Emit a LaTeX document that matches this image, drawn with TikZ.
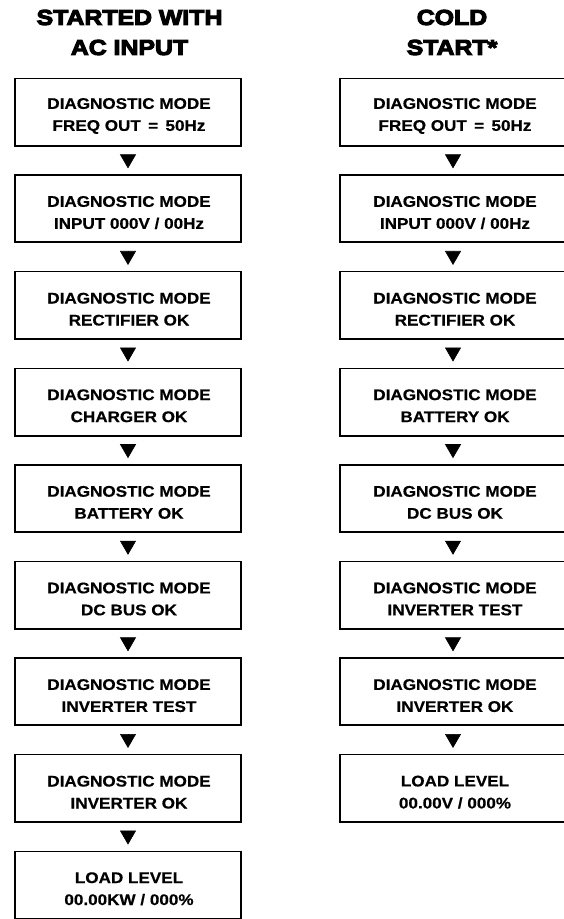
\documentclass[tikz,border=0pt]{standalone}
\usepackage{fontspec}
\newfontfamily\headfont[FakeStretch=1.15,BoldFeatures={FakeBold=5}]{Liberation Sans}
\newfontfamily\panelfont[FakeStretch=1.11,BoldFeatures={FakeBold=0.5}]{Liberation Sans}
\usetikzlibrary{arrows.meta}

\begin{document}
\begin{tikzpicture}[x=0.5pt,y=-0.5pt,line join=miter,
  head/.style={align=center,inner sep=0pt,font=\headfont\bfseries\fontsize{10.8}{15}\selectfont},
  panel/.style={draw,line width=0.7pt,minimum width=113pt,minimum height=33.5pt,inner sep=0pt},
  msg/.style={align=center,inner sep=0pt,font=\panelfont\bfseries\fontsize{7.7}{11}\selectfont},
  flowtip/.style={line width=0.3pt,-{Triangle[width=8pt,length=7pt]},shorten <=4.5pt,shorten >=3pt}]
  \useasboundingbox (0,0) rectangle (563,919);
  % column titles
  \node[head] (hacin) at (129.5,32.5) {STARTED WITH\\AC INPUT};
  \node[head] (hcold) at (452,32.5) {COLD\\START*};
  % started with ac input
  \node[panel] (a1) at (128,112.0) {};
  \node[panel] (a2) at (128,208.6) {};
  \node[panel] (a3) at (128,305.2) {};
  \node[panel] (a4) at (128,401.8) {};
  \node[panel] (a5) at (128,498.4) {};
  \node[panel] (a6) at (128,595.0) {};
  \node[panel] (a7) at (128,691.6) {};
  \node[panel] (a8) at (128,788.2) {};
  \node[panel] (a9) at (128,884.8) {};
  \node[msg] (a1t) at (129,116.0) {DIAGNOSTIC MODE\\FREQ OUT \,=\, 50Hz};
  \node[msg] (a2t) at (129,212.6) {DIAGNOSTIC MODE\\INPUT 000V / 00Hz};
  \node[msg] (a3t) at (129,309.2) {DIAGNOSTIC MODE\\RECTIFIER OK};
  \node[msg] (a4t) at (129,405.8) {DIAGNOSTIC MODE\\CHARGER OK};
  \node[msg] (a5t) at (129,502.4) {DIAGNOSTIC MODE\\BATTERY OK};
  \node[msg] (a6t) at (129,599.0) {DIAGNOSTIC MODE\\DC BUS OK};
  \node[msg] (a7t) at (129,695.6) {DIAGNOSTIC MODE\\INVERTER TEST};
  \node[msg] (a8t) at (129,792.2) {DIAGNOSTIC MODE\\INVERTER OK};
  \node[msg] (a9t) at (129,888.8) {LOAD LEVEL\\00.00KW / 000\%};
  % cold start
  \node[panel] (c1) at (453,112.0) {};
  \node[panel] (c2) at (453,208.6) {};
  \node[panel] (c3) at (453,305.2) {};
  \node[panel] (c4) at (453,401.8) {};
  \node[panel] (c5) at (453,498.4) {};
  \node[panel] (c6) at (453,595.0) {};
  \node[panel] (c7) at (453,691.6) {};
  \node[panel] (c8) at (453,788.2) {};
  \node[msg] (c1t) at (455,116.0) {DIAGNOSTIC MODE\\FREQ OUT \,=\, 50Hz};
  \node[msg] (c2t) at (455,212.6) {DIAGNOSTIC MODE\\INPUT 000V / 00Hz};
  \node[msg] (c3t) at (455,309.2) {DIAGNOSTIC MODE\\RECTIFIER OK};
  \node[msg] (c4t) at (455,405.8) {DIAGNOSTIC MODE\\BATTERY OK};
  \node[msg] (c5t) at (455,502.4) {DIAGNOSTIC MODE\\DC BUS OK};
  \node[msg] (c6t) at (455,599.0) {DIAGNOSTIC MODE\\INVERTER TEST};
  \node[msg] (c7t) at (455,695.6) {DIAGNOSTIC MODE\\INVERTER OK};
  \node[msg] (c8t) at (455,792.2) {LOAD LEVEL\\00.00V / 000\%};
  % heavier right and bottom edges
  \foreach \i in {1,...,9}
    \draw[line width=0.6pt] (a\i.north east) -- (a\i.south east) -- (a\i.south west);
  \foreach \i in {1,...,8}
    \draw[line width=0.6pt] (c\i.north east) -- (c\i.south east) -- (c\i.south west);
  % arrows
  \foreach \i [evaluate=\i as \j using int(\i+1)] in {1,...,8}
    \draw[flowtip] (a\i) -- (a\j);
  \foreach \i [evaluate=\i as \j using int(\i+1)] in {1,...,7}
    \draw[flowtip] (c\i) -- (c\j);
\end{tikzpicture}
\end{document}
